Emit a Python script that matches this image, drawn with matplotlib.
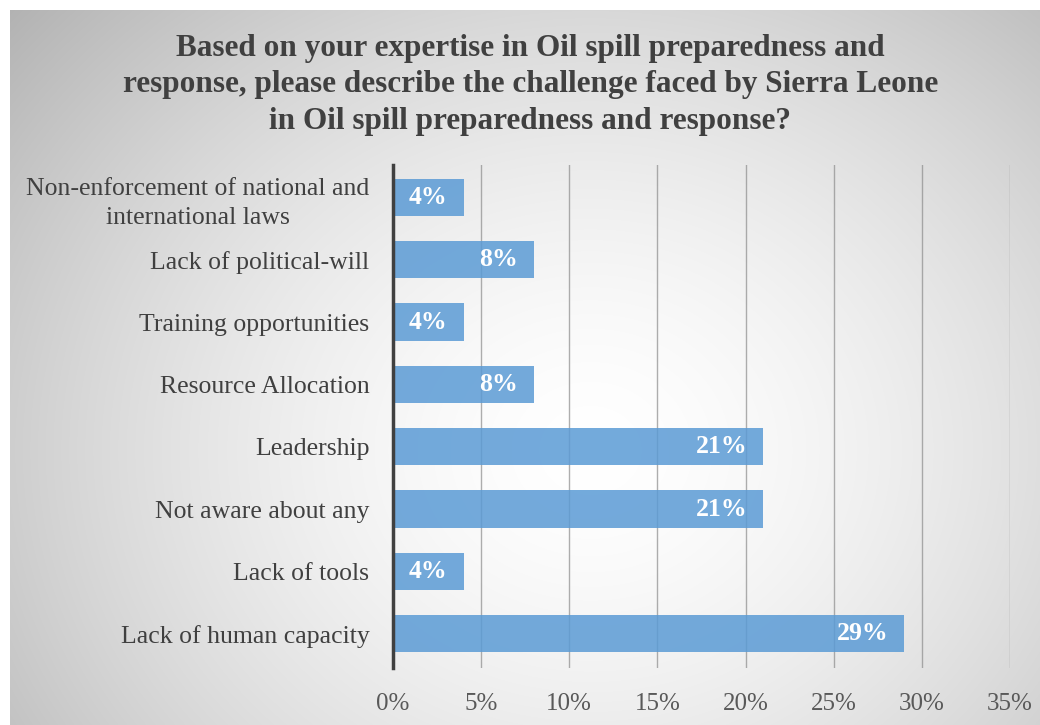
import matplotlib.pyplot as plt
import numpy as np

categories = [
    'Non-enforcement of national and\ninternational laws',
    'Lack of political-will',
    'Training opportunities',
    'Resource Allocation',
    'Leadership',
    'Not aware about any',
    'Lack of tools',
    'Lack of human capacity',
]
shares = [4, 8, 4, 8, 21, 21, 4, 29]
xticks = [0, 5, 10, 15, 20, 25, 30, 35]

title = ('Based on your expertise in Oil spill preparedness and\n'
         'response, please describe the challenge faced by Sierra Leone\n'
         'in Oil spill preparedness and response?')

plt.rcParams['font.family'] = ['Liberation Serif', 'DejaVu Serif']

fig = plt.figure(figsize=(10.4, 7.25), dpi=100)

# soft radial grey background behind the chart
bg = fig.add_axes([10 / 1040, 0, 1 - 10 / 1040, 1 - 10 / 725], zorder=-10)
h, w = 715, 1030
yy, xx = np.mgrid[0:h, 0:w]
r = np.hypot(xx - 580, (yy - 440) * 1.15)
shade = 1 - 0.30 * np.clip(r / r.max(), 0, 1) ** 1.6
bg.imshow(np.dstack([shade] * 3), aspect='auto', interpolation='bilinear')
bg.axis('off')

ax = fig.add_axes([393 / 1040, 1 - 668 / 725, (1010 - 393) / 1040, (668 - 165) / 725])
ax.patch.set_alpha(0)

y = np.arange(len(categories))
bars = ax.barh(y, shares, height=0.6, color='#5b9bd5', alpha=0.85, zorder=3)

for b, v in zip(bars, shares):
    ax.text(b.get_width() - 0.9, b.get_y() + b.get_height() / 2, f'{v}%',
            ha='right', va='center', color='white', fontsize=18.5,
            fontweight='bold', zorder=4)

ax.set_xlim(0, 35)
ax.set_ylim(len(categories) - 0.45, -0.52)
ax.set_xticks(xticks)
ax.set_xticklabels([f'{t}%' for t in xticks])
ax.set_yticks(y)
ax.set_yticklabels(categories)
for lab in ax.get_yticklabels():
    lab.set_multialignment('center')
    lab.set_linespacing(1.4)

ax.tick_params(axis='both', length=0, colors='#404040')
ax.tick_params(axis='y', pad=17, labelsize=18.5)
ax.tick_params(axis='x', pad=18, labelsize=18, labelcolor='#595959')

ax.grid(axis='x', color='#8c8c8c', linewidth=1, alpha=0.7, zorder=5)
for s in ['top', 'right', 'bottom']:
    ax.spines[s].set_visible(False)
ax.spines['left'].set_color('#404040')
ax.spines['left'].set_linewidth(2.5)
ax.spines['left'].set_zorder(6)

fig.text(0.51, 0.953, title, ha='center', va='top', fontsize=22.5,
         fontweight='bold', color='#404040', linespacing=1.33)

fig.savefig('out.png', dpi=100)
